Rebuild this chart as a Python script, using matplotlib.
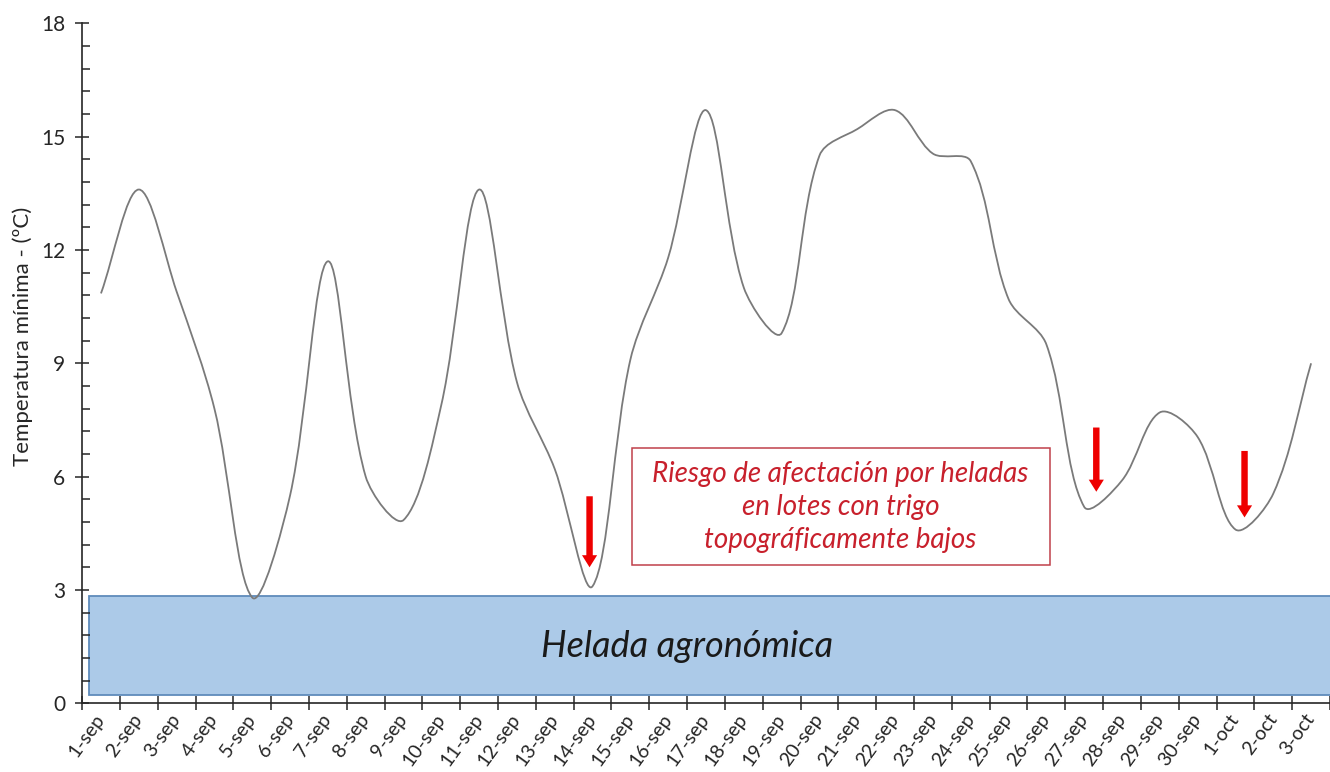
import numpy as np
import matplotlib
matplotlib.use('Agg')
import matplotlib.pyplot as plt
from matplotlib.path import Path
from matplotlib.patches import PathPatch, Rectangle, FancyArrow
from matplotlib.ticker import MultipleLocator, AutoMinorLocator

#daily minimum temperatures
days = ['1-sep', '2-sep', '3-sep', '4-sep', '5-sep', '6-sep', '7-sep', '8-sep',
        '9-sep', '10-sep', '11-sep', '12-sep', '13-sep', '14-sep', '15-sep',
        '16-sep', '17-sep', '18-sep', '19-sep', '20-sep', '21-sep', '22-sep',
        '23-sep', '24-sep', '25-sep', '26-sep', '27-sep', '28-sep', '29-sep',
        '30-sep', '1-oct', '2-oct', '3-oct']
tmin = [10.85, 13.6, 10.9, 7.8, 2.8, 5.5, 11.7, 6.0, 4.85, 7.9, 13.6, 8.5,
        6.2, 3.1, 9.1, 11.8, 15.7, 11.0, 9.8, 14.5, 15.2, 15.7, 14.55, 14.35,
        10.7, 9.5, 5.2, 5.9, 7.7, 7.05, 4.6, 5.55, 9.0]

#frost band and risk arrows (day index, top, tip)
frost_low, frost_high = 0.21, 2.84
arrow_days = [12.92, 26.32, 30.24]
arrow_top = [5.48, 7.3, 6.68]
arrow_tip = [3.6, 5.6, 4.92]

FONT = 'Lato'


def smooth_path(xs, ys):
    #excel-like smoothed line: cubic bezier between points,
    #tangent from neighbours, split by chord length so short
    #segments get short handles (gives the knees excel draws)
    pts = np.column_stack([xs, ys]).astype(float)
    n = len(pts)
    out_h = []
    in_h = []
    for i in range(n):
        prev = pts[i - 1] if i > 0 else pts[i]
        nxt = pts[i + 1] if i < n - 1 else pts[i]
        t = nxt - prev
        d0 = np.hypot(*(pts[i] - prev))
        d1 = np.hypot(*(nxt - pts[i]))
        s = d0 + d1 if d0 + d1 > 0 else 1.0
        out_h.append(pts[i] + t * (d1 / s) / 3.0)
        in_h.append(pts[i] - t * (d0 / s) / 3.0)
    verts = [pts[0]]
    codes = [Path.MOVETO]
    for i in range(n - 1):
        verts += [out_h[i], in_h[i + 1], pts[i + 1]]
        codes += [Path.CURVE4] * 3
    return Path(verts, codes)


fig = plt.figure(figsize=(13.3, 7.72), dpi=100)
ax = fig.add_axes([0.0617, 0.089, 0.9383, 0.8808])

x = np.arange(len(days))

#frost band
ax.add_patch(Rectangle((-0.31, frost_low), 40, frost_high - frost_low,
                       facecolor='#accae8', edgecolor='#5f8bbb', lw=1.3, zorder=1))
ax.text(15.49, 1.5, 'Helada agronómica', fontsize=26, style='italic',
        family=FONT, color='#1a1a1a', ha='center', va='center', zorder=3)

#temperature line
ax.add_patch(PathPatch(smooth_path(x, tmin), fill=False, edgecolor='#7a7a7a',
                       lw=1.3, zorder=2))

#red arrows on risk days
for d, top, tip in zip(arrow_days, arrow_top, arrow_tip):
    ax.add_patch(FancyArrow(d, top, 0, tip - top, width=0.17, head_width=0.4,
                            head_length=0.32, length_includes_head=True,
                            color='#ee0000', lw=0, zorder=4))

#risk note box
ax.add_patch(Rectangle((14.03, 3.66), 11.06, 3.1, facecolor='white',
                       edgecolor='#c0404a', lw=1.1, zorder=3))
ax.text(19.56, 5.2, 'Riesgo de afectación por heladas\nen lotes con trigo\ntopográficamente bajos',
        fontsize=20, style='italic', family=FONT, color='#c8202c',
        ha='center', va='center', linespacing=1.33, zorder=4)

#axes
ax.set_xlim(-0.5, 32.32)
ax.set_ylim(0, 18)
ax.yaxis.set_major_locator(MultipleLocator(3))
ax.yaxis.set_minor_locator(AutoMinorLocator(5))
ax.set_xticks(np.arange(-0.5, 32.6, 1))
ax.set_xticklabels([])
ax.set_xticks(x, minor=True)
ax.set_xticklabels(days, minor=True, rotation=54, ha='right', va='center',
                   rotation_mode='anchor', fontsize=14, family=FONT, color='#262626')
ax.tick_params(axis='x', which='major', direction='inout', length=10, width=1.1, color='#262626')
ax.tick_params(axis='x', which='minor', length=0, pad=9)
ax.tick_params(axis='y', which='major', direction='inout', length=10, width=1.1,
               color='#262626', labelsize=15, labelcolor='#262626', pad=7)
ax.tick_params(axis='y', which='minor', direction='in', length=6, width=1.1, color='#262626')
for lab in ax.get_yticklabels():
    lab.set_family(FONT)

for side in ['top', 'right']:
    ax.spines[side].set_visible(False)
for side in ['left', 'bottom']:
    ax.spines[side].set_color('#262626')
    ax.spines[side].set_linewidth(1.2)

ax.set_ylabel('Temperatura mínima - (ºC)', fontsize=16, family=FONT, color='#262626')
ax.yaxis.set_label_coords(-0.039, 0.54)

fig.savefig('out.png', dpi=100)
